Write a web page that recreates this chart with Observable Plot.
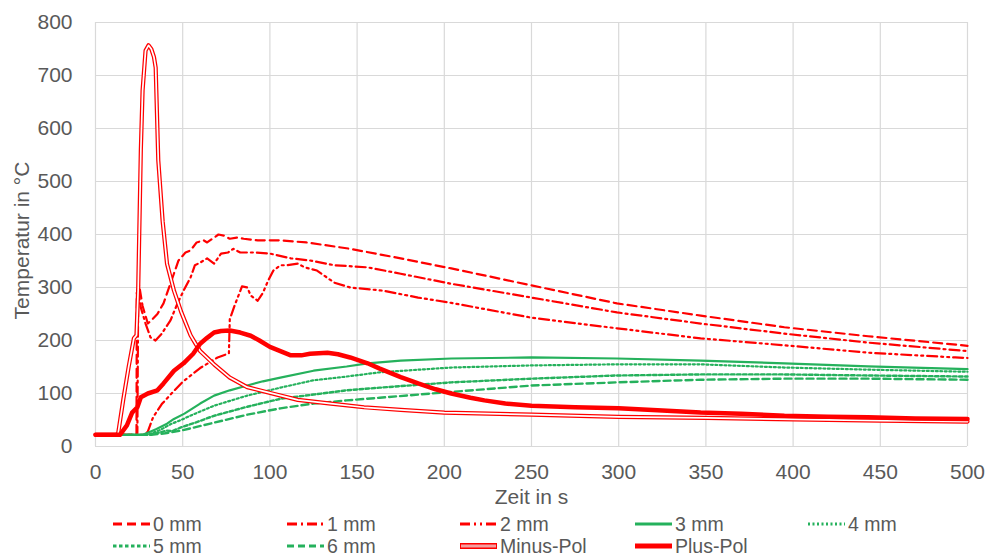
<!DOCTYPE html>
<html><head><meta charset="utf-8">
<script src="https://cdn.jsdelivr.net/npm/d3@7"></script>
<script src="https://cdn.jsdelivr.net/npm/@observablehq/plot@0.6"></script>
<style>
body{margin:0;background:#fff;font-family:"Liberation Sans",Arial,sans-serif}
#chart svg{display:block}
</style>
</head><body><div id="chart"></div><script>
// ---- data ----
const xTicks = [0, 50, 100, 150, 200, 250, 300, 350, 400, 450, 500];
const yTicks = [0, 100, 200, 300, 400, 500, 600, 700, 800];
const xLabel = "Zeit in s";
const yLabel = "Temperatur in °C";
const seriesNames = ["0 mm", "1 mm", "2 mm", "3 mm", "4 mm", "5 mm", "6 mm", "Minus-Pol", "Plus-Pol"];

const t0mm = [0, 23.5, 23.7, 25, 27, 30, 32, 35.5, 39, 44, 47.6, 51.6, 54.5, 58, 62, 64, 67, 70.5, 73.5, 77, 81, 85, 93, 106, 121, 146, 175, 204, 250, 299, 347, 395, 443, 500];
const v0mm = [22, 22, 290, 305, 265, 232, 238, 250, 270, 317, 351, 366, 370, 385, 389, 385, 392, 400, 398, 392, 394, 392, 389, 389, 385, 373, 355, 336, 304, 270, 247, 225, 208, 190];

const t1mm = [0, 24, 24.5, 26, 28.7, 31.5, 34.4, 38, 43, 47, 50.5, 54.5, 57, 60, 64, 68, 72, 76, 79, 83, 91, 100, 112, 123, 137, 156, 175, 204, 250, 299, 347, 395, 443, 500];
const v1mm = [22, 22, 295, 262, 232, 206, 200, 213, 238, 270, 294, 319, 342, 347, 355, 345, 364, 366, 373, 366, 366, 364, 355, 351, 342, 338, 326, 307, 281, 253, 232, 213, 196, 180];

const t2mm = [0, 28, 30, 33, 38, 45, 50, 55, 60, 65, 70, 75, 76.5, 77, 80, 84, 87, 89, 93, 96, 99, 102, 106, 110, 116, 120, 127, 137, 146, 165, 185, 204, 250, 299, 347, 395, 443, 493, 500];
const v2mm = [22, 22, 28, 55, 80, 105, 122, 135, 148, 158, 168, 174, 176, 240, 268, 302, 300, 285, 275, 290, 313, 332, 342, 342, 345, 338, 332, 309, 300, 294, 281, 271, 243, 223, 204, 191, 177, 168, 167];

const t3mm = [0, 27, 30, 35, 41, 45, 51, 60, 68, 77, 87, 96, 106, 125, 144, 156, 175, 204, 250, 299, 347, 395, 443, 500];
const v3mm = [22, 22, 26, 33, 43, 52, 62, 81, 96, 106, 115, 123, 130, 143, 151, 157, 162, 166, 168, 166, 162, 157, 151, 146];

const t4mm = [0, 30, 37, 43, 49, 55, 60, 68, 87, 106, 125, 144, 163, 204, 250, 299, 347, 395, 443, 500];
const v4mm = [22, 22, 31, 42, 50, 59, 66, 77, 96, 111, 125, 132, 140, 149, 153, 155, 155, 149, 145, 141];

const t5mm = [0, 30, 35, 41, 44, 49, 58, 68, 87, 106, 125, 144, 163, 204, 250, 299, 347, 395, 443, 500];
const v5mm = [22, 22, 25, 30, 29, 36, 46, 58, 75, 90, 98, 106, 111, 121, 128, 134, 136, 136, 134, 132];

const t6mm = [0, 32, 40, 49, 58, 68, 87, 106, 125, 144, 163, 204, 250, 299, 347, 395, 443, 500];
const v6mm = [22, 22, 25, 30, 37, 45, 60, 72, 81, 87, 92, 103, 115, 121, 126, 128, 128, 126];

const tMinus = [0, 12, 13, 16, 19, 22, 23.5, 24.5, 26, 27, 28.7, 30.4, 32, 33.5, 34.5, 36, 38.5, 41, 45, 49, 54.5, 57, 60, 68, 77, 87, 99, 116, 135, 154, 175, 200, 250, 300, 350, 400, 450, 500];
const vMinus = [22, 22, 25, 90, 150, 204, 210, 300, 560, 672, 747, 757, 750, 735, 715, 540, 425, 345, 294, 255, 210, 196, 180, 155, 130, 112, 102, 88, 81, 74, 69, 64, 60, 56, 54, 51, 49, 47];

const tPlus = [0, 14, 18, 21, 24, 26, 30, 35.5, 39, 45, 50.5, 56, 60, 64, 68, 72, 77, 83, 89, 94, 100, 106, 112, 118, 123, 128, 133, 139, 146, 156, 163, 175, 185, 195, 204, 215, 223, 235, 250, 275, 300, 325, 347, 370, 395, 420, 443, 470, 500];
const vPlus = [22, 22, 40, 64, 74, 93, 100, 106, 119, 143, 157, 175, 194, 205, 215, 218, 219, 215, 209, 200, 188, 180, 172, 172, 175, 176, 177, 174, 168, 157, 147, 131, 119, 108, 100, 92, 87, 81, 77, 74, 72, 68, 64, 62, 58, 56, 55, 53, 52];

// ---- styles ----
const RED = "#ff0000", GREEN = "#25b15c";
const styles = {
  "0 mm": {stroke: RED, width: 2.2, dash: "9,5"},
  "1 mm": {stroke: RED, width: 2.2, dash: "10,4,2,4"},
  "2 mm": {stroke: RED, width: 2.2, dash: "10,4,2,4,2,4"},
  "3 mm": {stroke: GREEN, width: 2.2, dash: null},
  "4 mm": {stroke: GREEN, width: 2.2, dash: "2,2.5"},
  "5 mm": {stroke: GREEN, width: 2.4, dash: "3.5,2.5"},
  "6 mm": {stroke: GREEN, width: 2.4, dash: "7,4"},
  "Minus-Pol": {stroke: RED, width: 4.2, dash: null, double: true},
  "Plus-Pol": {stroke: RED, width: 4.5, dash: null}
};

const raw = [[t0mm, v0mm], [t1mm, v1mm], [t2mm, v2mm], [t3mm, v3mm], [t4mm, v4mm], [t5mm, v5mm], [t6mm, v6mm], [tMinus, vMinus], [tPlus, vPlus]];
const rows = seriesNames.map((name, i) => raw[i][0].map((t, j) => ({series: name, t, T: raw[i][1][j]})));

const lineMarks = [];
seriesNames.forEach((name, i) => {
  const s = styles[name];
  lineMarks.push(Plot.line(rows[i], {x: "t", y: "T", stroke: s.stroke, strokeWidth: s.width,
    strokeDasharray: s.dash || undefined, strokeLinejoin: "round"}));
  if (s.double) lineMarks.push(Plot.line(rows[i], {x: "t", y: "T", stroke: "#ffffff", strokeWidth: 1.7, strokeLinejoin: "round"}));
});

const W = 987, H = 508;
const plot = Plot.plot({
  width: W, height: H,
  marginLeft: 95, marginRight: 20, marginTop: 22, marginBottom: 62,
  style: {fontFamily: '"Liberation Sans", Arial, sans-serif', color: "#595959", background: "#fff"},
  x: {domain: [0, 500]},
  y: {domain: [0, 800]},
  marks: [
    Plot.gridX(xTicks, {stroke: "#d9d9d9", strokeOpacity: 1, strokeWidth: 1.2}),
    Plot.gridY(yTicks, {stroke: "#d9d9d9", strokeOpacity: 1, strokeWidth: 1.2}),
    Plot.axisX(xTicks, {tickSize: 0, tickPadding: 18, fontSize: 21, label: null}),
    Plot.axisY(yTicks, {tickSize: 0, tickPadding: 23, fontSize: 21, label: null}),
    ...lineMarks,
    Plot.text([xLabel], {frameAnchor: "bottom", lineAnchor: "middle", textAnchor: "middle", dy: 51, fontSize: 21, fill: "#595959"}),
    Plot.text([yLabel], {frameAnchor: "left", lineAnchor: "middle", textAnchor: "middle", dx: -73, dy: 6, rotate: -90, fontSize: 21, fill: "#595959"})
  ]
});
document.getElementById("chart").appendChild(plot);

// ---- legend ----
const colX = [113, 287, 460, 635, 808];
const rowY = [16, 38];
const leg = d3.select("#chart").append("svg").attr("width", W).attr("height", 49)
  .style("font-family", '"Liberation Sans", Arial, sans-serif');
seriesNames.forEach((name, i) => {
  const s = styles[name];
  const x = colX[i % 5], y = rowY[Math.floor(i / 5)];
  const g = leg.append("g");
  g.append("line").attr("x1", x).attr("x2", x + 37).attr("y1", y).attr("y2", y)
    .attr("stroke", s.stroke).attr("stroke-width", s.double ? 6 : s.width + 0.6)
    .attr("stroke-dasharray", s.dash || null);
  if (s.double) g.append("line").attr("x1", x + 1).attr("x2", x + 36).attr("y1", y).attr("y2", y)
    .attr("stroke", "#f4a0a0").attr("stroke-width", 3);
  g.append("text").attr("x", x + 40).attr("y", y).attr("dy", "0.35em")
    .attr("font-size", 19.5).attr("fill", "#595959").text(name);
});
</script></body></html>
